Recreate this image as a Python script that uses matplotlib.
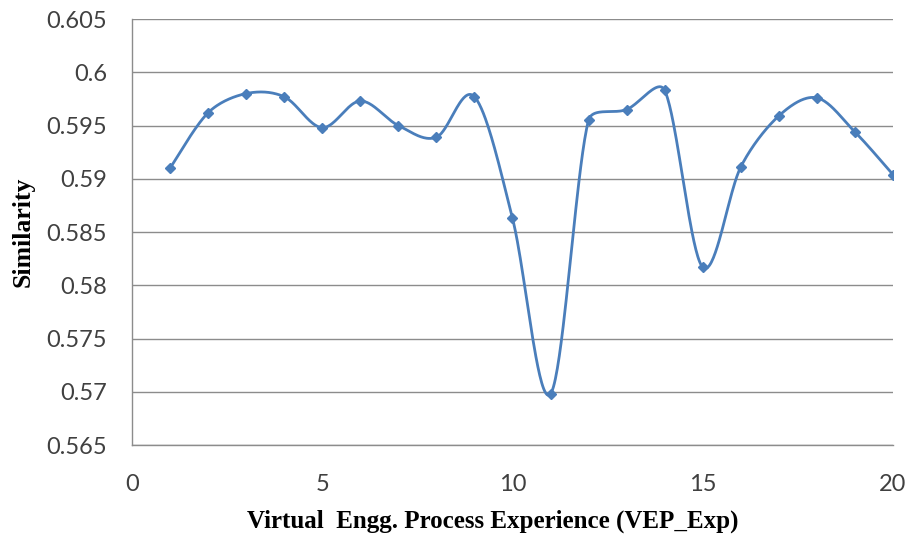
import numpy as np
from matplotlib import pyplot as plt

vep_exp = [1, 2, 3, 4, 5, 6, 7, 8, 9, 10, 11, 12, 13, 14, 15, 16, 17, 18, 19, 20]
similarity = [0.5910, 0.5962, 0.5980, 0.5977, 0.5948, 0.5973, 0.5950, 0.5939, 0.5977, 0.5863,
              0.5698, 0.5955, 0.5965, 0.5983, 0.5817, 0.5911, 0.5959, 0.5976, 0.5944, 0.5904]
yticks = [0.565, 0.57, 0.575, 0.58, 0.585, 0.59, 0.595, 0.6, 0.605]
yticklabels = ['0.565', '0.57', '0.575', '0.58', '0.585', '0.59', '0.595', '0.6', '0.605']


def smoothCurve(x, y, sx, sy, n=40):
	# excel-like smoothed line: catmull-rom bezier, arms capped by the segment length (in pixels)
	p = np.column_stack([np.asarray(x, float) * sx, np.asarray(y, float) * sy])
	p = np.vstack([p[0], p, p[-1]])
	t = np.linspace(0, 1, n)[:, None]
	out = []
	for i in range(1, len(p) - 2):
		p0, p3 = p[i], p[i + 1]
		d = np.linalg.norm(p3 - p0)
		t0 = p[i + 1] - p[i - 1]
		t1 = p[i + 2] - p[i]
		a0 = min(np.linalg.norm(t0) / 6, d * 0.35)
		a1 = min(np.linalg.norm(t1) / 6, d * 0.35)
		p1 = p0 + t0 / max(np.linalg.norm(t0), 1e-9) * a0
		p2 = p3 - t1 / max(np.linalg.norm(t1), 1e-9) * a1
		b = (1 - t) ** 3 * p0 + 3 * (1 - t) ** 2 * t * p1 + 3 * (1 - t) * t ** 2 * p2 + t ** 3 * p3
		out.append(b)
	b = np.vstack(out)
	return b[:, 0] / sx, b[:, 1] / sy


fig = plt.figure(figsize=(9.13, 5.37), dpi=100)
ax = fig.add_axes([0.1446, 0.1713, 0.8334, 0.7933])

blue = '#4a7ebb'
# pixels per data unit, so the smoothing looks like it does on screen
pxx = 761 / 20
pxy = 426 / 0.04
cx, cy = smoothCurve(vep_exp, similarity, pxx, pxy)
ax.plot(cx, cy, '-', color=blue, lw=2.0, zorder=3)
ax.plot(vep_exp, similarity, 'D', color=blue, ms=5.5, zorder=4)

ax.set_xlim(0, 20)
ax.set_ylim(0.565, 0.605)
ax.set_xticks([0, 5, 10, 15, 20])
ax.set_yticks(yticks)
ax.set_yticklabels(yticklabels)
ax.yaxis.grid(True, color='#8c8c8c', lw=1.0)
ax.set_axisbelow(True)
for s in ['top', 'right']:
	ax.spines[s].set_visible(False)
for s in ['left', 'bottom']:
	ax.spines[s].set_color('#8c8c8c')
	ax.spines[s].set_linewidth(1.0)
ax.tick_params(axis='x', length=0, labelsize=17, labelcolor='#404040', pad=21)
ax.tick_params(axis='y', length=0, labelsize=17, labelcolor='#404040', pad=18)
for lab in ax.get_xticklabels() + ax.get_yticklabels():
	lab.set_family('Lato')

fig.text(493 / 913, 1 - 521 / 537, 'Virtual  Engg. Process Experience (VEP_Exp)', family='Liberation Serif',
	fontweight='bold', fontsize=18, ha='center', va='center')
fig.text(23 / 913, 1 - 232 / 537, 'Similarity', family='Liberation Serif', fontweight='bold',
	fontsize=18.5, rotation=90, ha='center', va='center')

fig.savefig('out.png', dpi=100)
